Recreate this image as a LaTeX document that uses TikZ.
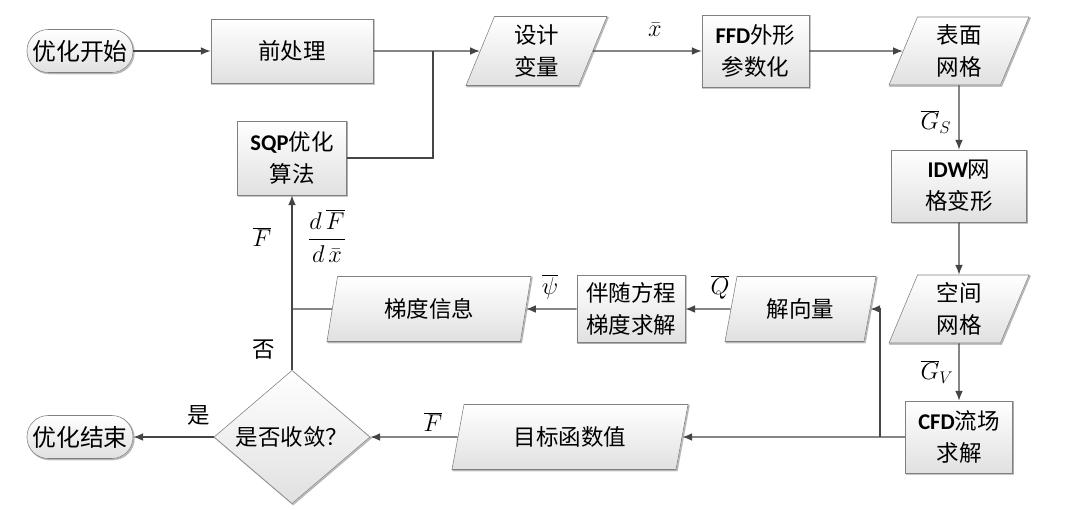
\documentclass[tikz,border=0pt]{standalone}
\usepackage{fontspec}
\setsansfont{Carlito}
\newfontfamily\cjk{Noto Sans CJK SC}
\usetikzlibrary{arrows.meta,shapes.geometric,shadows,positioning}
\definecolor{edgegray}{HTML}{808080}
\definecolor{linegray}{HTML}{454545}
\newcommand{\lat}[1]{{\sffamily\bfseries #1}}
\tikzset{
  basic/.style    = {draw=edgegray, thin, align=center, inner sep=1pt,
                     font=\cjk\fontsize{16}{23}\selectfont,
                     top color=white, bottom color=black!12,
                     drop shadow={opacity=0.3, shadow xshift=0.8pt, shadow yshift=-0.8pt}},
  procbox/.style  = {basic, rectangle},
  databox/.style  = {basic, trapezium, trapezium left angle=63, trapezium right angle=117,
                     trapezium stretches body},
  termbox/.style  = {basic, rectangle, rounded corners=0.53cm, minimum width=2.65cm,
                     minimum height=1.075cm, font=\cjk\fontsize{17}{20}\selectfont},
  decbox/.style   = {basic, diamond, inner sep=0pt},
  lbl/.style      = {inner sep=0pt, font=\fontsize{18}{21}\selectfont},
  clbl/.style     = {inner sep=0pt, font=\cjk\fontsize{16}{20}\selectfont}
}

\begin{document}
\begin{tikzpicture}[x=0.025cm, y=-0.025cm,
  every path/.style={draw=linegray, line width=0.9pt},
  >={Latex[length=7pt,width=5.5pt]}]
\useasboundingbox[draw=none] (0,0) rectangle (1080,509);

% top row
\node[termbox] (start) at (80,51) {优化开始};
\node[procbox, minimum width=4.05cm, minimum height=1.6cm] (pre) at (292,51) {前处理};
\node[databox, minimum width=3.525cm, minimum height=1.725cm] (var) at (536.5,51) {设计\\变量};
\node[procbox, minimum width=2.675cm, minimum height=1.8cm] (ffd) at (755.5,51) {\lat{FFD}外形\\参数化};
\node[databox, minimum width=3.5cm, minimum height=1.7cm] (surf) at (959,51) {表面\\网格};

% right column
\node[procbox, minimum width=3.375cm, minimum height=1.8cm] (idw) at (959,186) {\lat{IDW}网\\格变形};
\node[databox, minimum width=3.5cm, minimum height=1.7cm] (space) at (959,309) {空间\\网格};
\node[procbox, minimum width=2.675cm, minimum height=1.8cm] (cfd) at (959,437) {\lat{CFD}流场\\求解};

% middle row, going back to the left
\node[databox, minimum width=3.775cm, minimum height=1.625cm] (sol) at (800.5,309) {解向量};
\node[procbox, minimum width=2.7cm, minimum height=1.675cm] (adj) at (631,309) {伴随方程\\梯度求解};
\node[databox, minimum width=5.1cm, minimum height=1.625cm, trapezium left angle=66,
      trapezium right angle=114] (grad) at (429,309) {梯度信息};
\node[procbox, minimum width=2.725cm, minimum height=1.85cm] (sqp) at (292,158) {\lat{SQP}优化\\算法};

% bottom row
\node[databox, minimum width=5.9cm, minimum height=1.625cm] (obj) at (570,437) {目标函数值};
\node[decbox, minimum width=3.9cm, minimum height=3.225cm] (dec) at (292,437) {是否收敛？};
\node[termbox] (stop) at (80,437) {优化结束};

% labels
\node[lbl] (lx) at (655,30) {$\bar{x}$};
\node[lbl] (lgs) at (936,122) {$\overline{G}_S$};
\node[lbl] (lgv) at (937,372) {$\overline{G}_V$};
\node[lbl] (lq) at (720,287) {$\overline{Q}$};
\node[lbl] (lpsi) at (550,287) {$\overline{\psi}$};
\node[lbl] (lf1) at (262,237) {$\overline{F}$};
\node[lbl] (ldf) at (327,236) {$\displaystyle\frac{d\,\overline{F}}{d\,\bar{x}}$};
\node[lbl] (lf2) at (433,422) {$\overline{F}$};
\node[clbl] (lno) at (264,350) {否};
\node[clbl] (lyes) at (199,415) {是};

% connectors
\coordinate (j1) at (433,51);
\coordinate (j2) at (880,437);
\coordinate (j3) at (292,309);
\draw[->] (start) -- (pre);
\draw[->] (pre) -- (var);
\draw (sqp.east) -| (j1);
\draw[->] (var) -- (ffd);
\draw[->] (ffd) -- (surf);
\draw[->] (surf) -- (idw);
\draw[->] (idw) -- (space);
\draw[->] (space) -- (cfd);
\draw[->] (cfd) -- (obj);
\draw[->] (j2) |- (sol.east);
\draw[->] (sol) -- (adj);
\draw[->] (adj) -- (grad);
\draw (grad) -- (j3);
\draw[->] (dec.north) -- (sqp.south);
\draw[->] (obj) -- (dec);
\draw[->] (dec) -- (stop);
\end{tikzpicture}
\end{document}
